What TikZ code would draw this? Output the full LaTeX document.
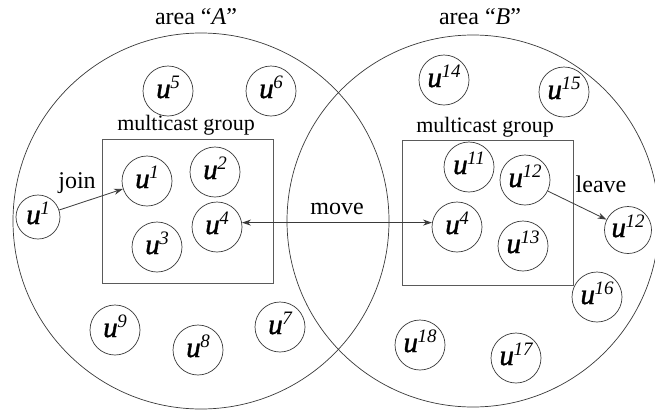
\documentclass[tikz,border=0pt]{standalone}
\usepackage{fontspec}
\setmainfont{Liberation Serif}
\newfontfamily\ufam[FakeBold=1.3]{Liberation Serif}
\usetikzlibrary{arrows.meta}
\definecolor{linec}{HTML}{3A3A3A}
\definecolor{boxc}{HTML}{5A5A5A}
\newcommand{\ulab}[1]{{\ufam\fontsize{29}{29}\selectfont\itshape u}\kern-0.5pt\raisebox{10pt}{\fontsize{19}{19}\selectfont\itshape #1}}
\tikzset{
  user/.style={circle, draw=linec, line width=0.7pt, minimum size=50pt, inner sep=0pt,
               text height=14pt, text depth=0pt},
  area/.style={circle, draw=linec, line width=0.7pt, inner sep=0pt},
  grp/.style={draw=boxc, line width=1pt},
  lbl/.style={font=\fontsize{24}{24}\selectfont, inner sep=0pt},
  glbl/.style={font=\fontsize{22}{22}\selectfont, inner sep=0pt},
  arr/.style={draw=linec, line width=0.8pt, -{Stealth[length=9pt,width=6pt]}},
  darr/.style={draw=linec, line width=0.8pt, {Stealth[length=9pt,width=6pt]}-{Stealth[length=9pt,width=6pt]}}
}
\begin{document}
\begin{tikzpicture}[x=1pt,y=-1pt]
\clip (0,0) rectangle (655,410);
\fill[white] (0,0) rectangle (655,410);
% areas
\node[area, minimum size=376pt] (areaA) at (201,221) {};
\node[area, minimum size=372pt] (areaB) at (473,221) {};
\node[lbl] (titleA) at (196,17) {area ``\textit{A}''};
\node[lbl] (titleB) at (480,17) {area ``\textit{B}''};
% multicast groups
\node[grp, minimum width=171pt, minimum height=144pt, inner sep=0pt] (grpA) at (187.5,211) {};
\node[grp, minimum width=171pt, minimum height=145pt, inner sep=0pt] (grpB) at (487.5,212.5) {};
\node[glbl] (mgA) at (186,125) {multicast group};
\node[glbl] (mgB) at (485,127) {multicast group};
% users in area A
\node[user] (u5) at (168,91) {\ulab{5}};
\node[user] (u6) at (271,91) {\ulab{6}};
\node[user] (u1in) at (147,181) {\ulab{1}};
\node[user] (u2) at (215,172) {\ulab{2}};
\node[user] (u4L) at (217,227) {\ulab{4}};
\node[user] (u3) at (157,247) {\ulab{3}};
\node[user, minimum size=44pt] (u1out) at (38,217) {\ulab{1}};
\node[user] (u9) at (115,330) {\ulab{9}};
\node[user] (u8) at (198,350) {\ulab{8}};
\node[user] (u7) at (280,327) {\ulab{7}};
% users in area B
\node[user] (u14) at (444,80) {\ulab{14}};
\node[user] (u15) at (564,92) {\ulab{15}};
\node[user] (u11) at (469,167) {\ulab{11}};
\node[user] (u12in) at (525,180) {\ulab{12}};
\node[user] (u4R) at (457,227) {\ulab{4}};
\node[user] (u13) at (523,246) {\ulab{13}};
\node[user, minimum size=47pt] (u12out) at (628,230) {\ulab{12}};
\node[user] (u16) at (597,297) {\ulab{16}};
\node[user] (u18) at (420,345) {\ulab{18}};
\node[user] (u17) at (516,358) {\ulab{17}};
% actions
\node[lbl] (join) at (77,183) {join};
\node[lbl] (move) at (337,209) {move};
\node[lbl] (leave) at (601,184) {leave};
\draw[arr] (u1out) -- (u1in);
\draw[darr] (u4L.10) -- (u4R.170);
\draw[arr] (u12in) -- (u12out);
\end{tikzpicture}
\end{document}
